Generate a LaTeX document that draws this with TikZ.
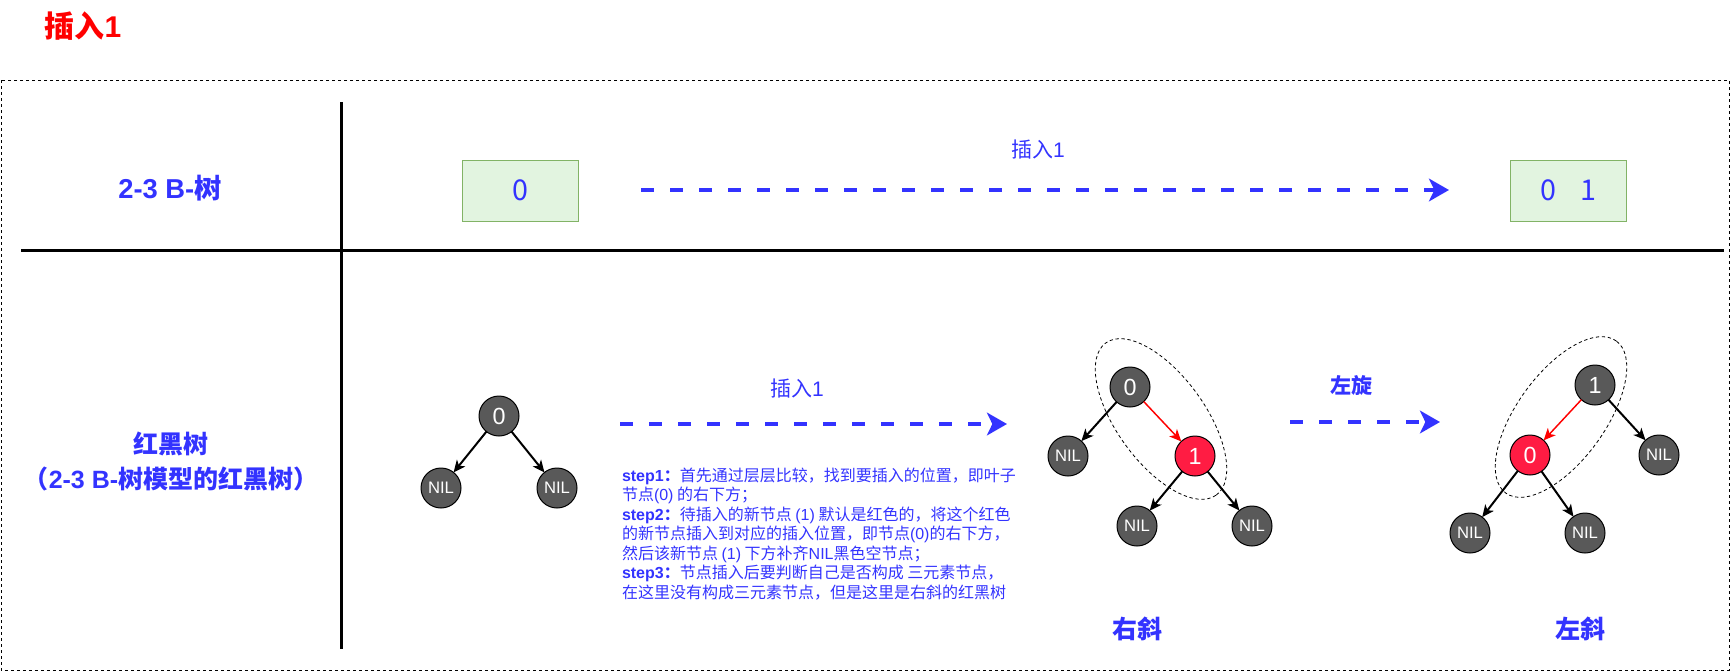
\documentclass[tikz,border=0pt]{standalone}
\usepackage{fontspec}
\setmainfont{Noto Sans CJK SC}
\newfontfamily\latfont{Liberation Sans}
\usetikzlibrary{arrows.meta,shapes.geometric}
\definecolor{myblue}{HTML}{3333FF}
\definecolor{nodegray}{HTML}{595959}
\definecolor{nodered}{HTML}{FF1C43}
\definecolor{boxfill}{HTML}{E2F4E0}
\definecolor{boxdraw}{HTML}{82B366}
\newcommand\lt[1]{{\latfont #1}}
\begin{document}
\begin{tikzpicture}[x=0.75pt,y=-0.75pt,
  every node/.style={inner sep=0pt, outer sep=0pt},
  blk/.style={circle, fill=nodegray, draw=black, line width=0.75pt, minimum size=30pt, text=white, font=\latfont\fontsize{17.5}{18}\selectfont},
  nil/.style={blk, font=\latfont\fontsize{12.5}{13}\selectfont},
  redn/.style={blk, fill=nodered},
  tedge/.style={draw=black, line width=1.5pt, -{Stealth[length=9pt,width=8pt,inset=2.5pt]}},
  redge/.style={draw=red, line width=1.1pt, -{Stealth[length=9pt,width=8pt,inset=2.5pt]}},
  barrow/.style={draw=myblue, line width=3pt, dash pattern=on 9.75pt off 12pt, -{Stealth[length=15pt,width=17pt,inset=4pt]}},
  bluelbl/.style={text=myblue, font=\fontsize{15.75}{16}\selectfont},
  boldlbl/.style={text=myblue, font=\bfseries\fontsize{15.75}{16}\selectfont},
  bigbl/.style={text=myblue, font=\bfseries\fontsize{18.75}{26.25}\selectfont},
  keybox/.style={rectangle, fill=boxfill, draw=boxdraw, line width=0.75pt, minimum width=87pt, minimum height=45.75pt, text=myblue, font=\fontsize{21.5}{22}\selectfont},
  grp/.style={ellipse, draw=black, dash pattern=on 2.5pt off 2pt, line width=0.6pt, minimum width=141pt, minimum height=66pt},
  steptxt/.style={anchor=base west, text=myblue, font=\fontsize{12}{14}\selectfont}
]
\useasboundingbox (0,0) rectangle (1731,671);

% title
\node[text=red, font=\bfseries\fontsize{22.5}{24}\selectfont] (title) at (83,26) {插入\lt{1}};

% frame and separators
\draw[line width=0.75pt, dash pattern=on 2.25pt off 2.25pt] (1,80) rectangle (1729,670);
\draw[line width=2.25pt] (341,102) -- (341,649);
\draw[line width=2.25pt] (21,250) -- (1724,250);

% row labels
\node[bigbl, font=\bfseries\fontsize{20.5}{22}\selectfont] (lab1) at (170,188) {\lt{2-3 B-}树};
\node[bigbl, align=center] (lab2) at (171,461) {红黑树\\（\lt{2-3 B-}树模型的红黑树）};

% 2-3 B-tree row
\node[keybox] (b0) at (520,190.5) {0};
\node[keybox] (b01) at (1568,190.5) {0\hspace{18pt}1};
\coordinate (a1s) at (641,190);
\coordinate (a1e) at (1449,190);
\draw[barrow] (a1s) -- (a1e);
\node[bluelbl] (ins1) at (1038,150) {插入\lt{1}};

% left tree
\node[blk] (L0) at (499,416) {0};
\node[nil] (Ln1) at (441,488) {NIL};
\node[nil] (Ln2) at (557,488) {NIL};
\draw[tedge] (L0) -- (Ln1);
\draw[tedge] (L0) -- (Ln2);

% middle arrow
\coordinate (a2s) at (620,424);
\coordinate (a2e) at (1007,424);
\draw[barrow] (a2s) -- (a2e);
\node[bluelbl] (ins2) at (797,389) {插入\lt{1}};

% step text
\node[steptxt] (s1) at (622,481) {\textbf{\lt{step1}：}首先通过层层比较，找到要插入的位置，即叶子};
\node[steptxt] (s2) at (622,500.5) {节点\lt{(0)} 的右下方；};
\node[steptxt] (s3) at (622,520) {\textbf{\lt{step2}：}待插入的新节点 \lt{(1)} 默认是红色的，将这个红色};
\node[steptxt] (s4) at (622,539.5) {的新节点插入到对应的插入位置，即节点\lt{(0)}的右下方，};
\node[steptxt] (s5) at (622,559) {然后该新节点 \lt{(1)} 下方补齐\lt{NIL}黑色空节点；};
\node[steptxt] (s6) at (622,578.5) {\textbf{\lt{step3}：}节点插入后要判断自己是否构成 三元素节点，};
\node[steptxt] (s7) at (622,598) {在这里没有构成三元素节点，但是这里是右斜的红黑树};

% middle tree (right-leaning)
\node[grp, rotate=-54] (E1) at (1161,419) {};
\node[blk] (M0) at (1130,387) {0};
\node[redn] (M1) at (1195,456) {1};
\node[nil] (Mn1) at (1068,456) {NIL};
\node[nil] (Mn2) at (1137,526) {NIL};
\node[nil] (Mn3) at (1252,526) {NIL};
\draw[tedge] (M0) -- (Mn1);
\draw[redge] (M0) -- (M1);
\draw[tedge] (M1) -- (Mn2);
\draw[tedge] (M1) -- (Mn3);
\node[bigbl] (rx) at (1137,629) {右斜};

% rotate arrow
\coordinate (a3s) at (1290,422);
\coordinate (a3e) at (1440,422);
\draw[barrow] (a3s) -- (a3e);
\node[boldlbl] (rot) at (1351,386) {左旋};

% right tree (left-leaning)
\node[grp, rotate=54] (E2) at (1561,417) {};
\node[blk] (R1) at (1595,385) {1};
\node[redn] (R0) at (1530,455) {0};
\node[nil] (Rn1) at (1659,455) {NIL};
\node[nil] (Rn2) at (1470,533) {NIL};
\node[nil] (Rn3) at (1585,533) {NIL};
\draw[redge] (R1) -- (R0);
\draw[tedge] (R1) -- (Rn1);
\draw[tedge] (R0) -- (Rn2);
\draw[tedge] (R0) -- (Rn3);
\node[bigbl] (lx) at (1580,629) {左斜};
\end{tikzpicture}
\end{document}
